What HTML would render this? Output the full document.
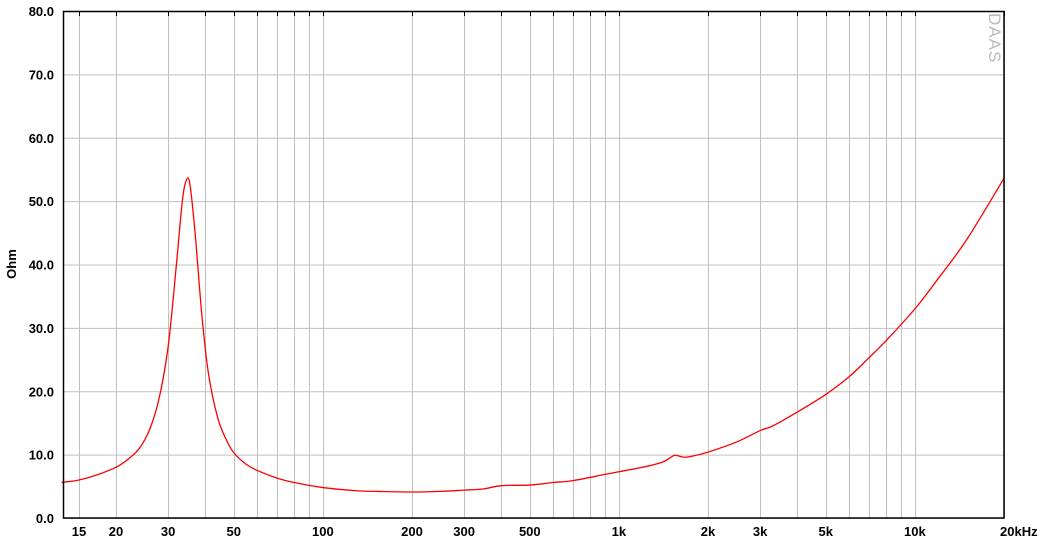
<!DOCTYPE html>
<html><head><meta charset="utf-8"><style>
body{margin:0;background:#fff;}
svg text{font-family:"Liberation Sans",sans-serif;}
</style></head><body>
<svg id="chart" width="1043" height="540" xmlns="http://www.w3.org/2000/svg">
<g id="grid"></g>
<g id="labels"></g>
<path id="curve" fill="none" stroke="#ff0000" stroke-width="1.3"/>
<rect x="63.5" y="11.5" width="940.5" height="506.5" fill="none" stroke="#000" stroke-width="1.5"/>
<text transform="translate(16,264) rotate(-90)" text-anchor="middle" font-size="13" font-weight="bold">Ohm</text>
<text transform="translate(989,13) rotate(90)" font-size="17" fill="#bbb" font-weight="normal" letter-spacing="1">DAAS</text>
</svg>
<script>
const freqs=[13.1,15,17,20,22,24,26,28,30,32,33.5,34.5,35.5,37,39,41,44,47,50,55,60,70,80,100,130,150,200,250,300,350,400,500,600,700,900,1000,1200,1400,1500,1550,1650,1750,2000,2500,3000,3300,4000,5000,6000,7000,8000,10000,12000,15000,20000];
const ohms=[5.6,6.0,6.7,8.0,9.3,11,14,19,27,40,50,53.2,52.8,45,32,23,16,12.5,10.3,8.5,7.5,6.3,5.6,4.8,4.3,4.2,4.1,4.2,4.4,4.6,5.1,5.2,5.6,5.9,6.9,7.3,8.0,8.8,9.6,9.9,9.6,9.7,10.4,12,13.8,14.5,16.7,19.5,22.3,25.3,28,33,37.8,44,53.6];
const yTicks=[0,10,20,30,40,50,60,70,80];
const xGrid=[15,20,30,40,50,60,70,80,90,100,200,300,400,500,600,700,800,900,1000,2000,3000,4000,5000,6000,7000,8000,9000,10000,20000];
const xLabels=["15","20","30","50","100","200","300","500","1k","2k","3k","5k","10k","20kHz"];
const xLabelVals=[15,20,30,50,100,200,300,500,1000,2000,3000,5000,10000,20000];
const X=f=>116+296*Math.log10(f/20);
const Y=v=>518-v*(507/80);
const ns="http://www.w3.org/2000/svg";
const g=document.getElementById('grid'),L=document.getElementById('labels');
function mk(tag,at,parent){const e=document.createElementNS(ns,tag);for(const k in at)e.setAttribute(k,at[k]);parent.appendChild(e);return e;}
yTicks.forEach(v=>{
 const l=mk('line',{x1:63,x2:1004,y1:Y(v)+0.5,y2:Y(v)+0.5,stroke:'#c0c0c0'},g);
 
 
 const t=mk('text',{x:54,y:Y(v)+5,'text-anchor':'end','font-size':13,'font-weight':'bold'},L);
 t.textContent=v.toFixed(1);
 
 
});
xGrid.forEach(f=>{
 const x=Math.round(X(f))+0.5;
 const l=mk('line',{x1:x,x2:x,y1:11,y2:518,stroke:'#c0c0c0'},g);
 
 
 const tk=mk('line',{x1:x,x2:x,y1:11,y2:16,stroke:'#000'},g);
 
 
});
xLabelVals.forEach((f,i)=>{
 const t=mk('text',{x:X(f),y:536,'text-anchor':'middle','font-size':13,'font-weight':'bold'},L);
 if(i===xLabelVals.length-1){t.setAttribute('x',X(f)-4);t.setAttribute('text-anchor','start');}
 t.textContent=xLabels[i];
 
 
});
const pts=freqs.map((f,i)=>[X(f),Y(ohms[i])]);
let d='M'+pts[0][0]+','+pts[0][1];
for(let i=0;i<pts.length-1;i++){
 const p0=pts[Math.max(0,i-1)],p1=pts[i],p2=pts[i+1],p3=pts[Math.min(pts.length-1,i+2)];
 const c1=[p1[0]+(p2[0]-p0[0])/6,p1[1]+(p2[1]-p0[1])/6];
 const c2=[p2[0]-(p3[0]-p1[0])/6,p2[1]-(p3[1]-p1[1])/6];
 d+=` C${c1[0]},${c1[1]} ${c2[0]},${c2[1]} ${p2[0]},${p2[1]}`;
}
document.getElementById('curve').setAttribute('d',d);
</script>
</body></html>
